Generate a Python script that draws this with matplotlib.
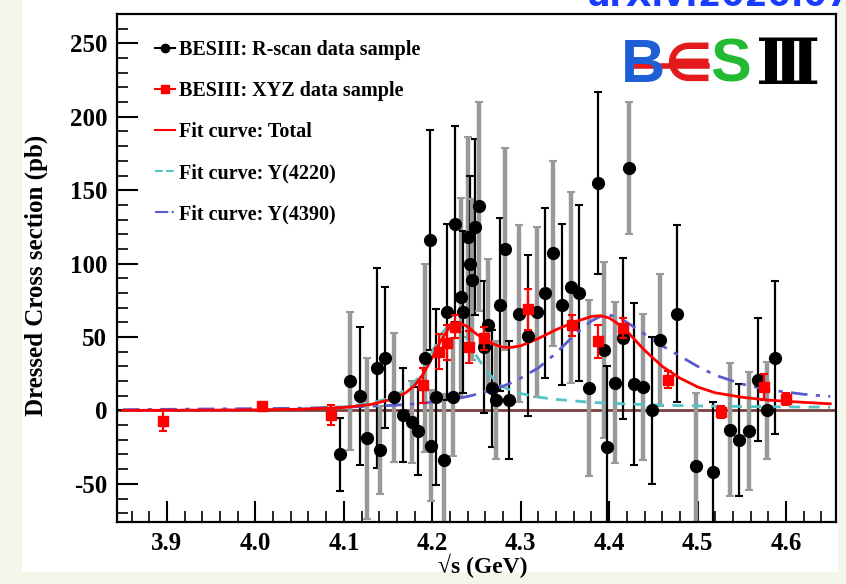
import matplotlib
matplotlib.use("Agg")
import matplotlib.pyplot as plt
from matplotlib.lines import Line2D
from matplotlib.patches import Rectangle
from matplotlib.ticker import MultipleLocator, FormatStrFormatter

# R-scan data: energy (GeV), dressed cross section (pb), error (pb)
rscan_e = [4.096, 4.107, 4.118, 4.126, 4.137, 4.141, 4.147, 4.157, 4.167, 4.177,
           4.184, 4.192, 4.197, 4.199, 4.204, 4.213, 4.217, 4.223, 4.226, 4.232,
           4.235, 4.240, 4.243, 4.245, 4.248, 4.253, 4.258, 4.263, 4.268, 4.272,
           4.277, 4.282, 4.287, 4.298, 4.308, 4.318, 4.328, 4.337, 4.347, 4.357,
           4.366, 4.377, 4.387, 4.394, 4.397, 4.407, 4.416, 4.422, 4.428, 4.438,
           4.448, 4.457, 4.477, 4.498, 4.517, 4.537, 4.547, 4.558, 4.568, 4.578,
           4.587]
rscan_xs = [-30, 20, 10, -19, 29, -27, 36, 9, -3, -8,
            -14, 36, 116, -24, 9, -34, 67, 9, 127, 77,
            67, 118, 100, 89, 125, 139, 43, 58, 15, 7,
            72, 110, 7, 66, 51, 67, 80, 107, 72, 84,
            80, 15, 155, 41, -25, 19, 49, 165, 18, 16,
            0, 48, 66, -38, -42, -13, -20, -14, 21, 0,
            36]
rscan_err = [25, 47, 47, 55, 68, 30, 48, 44, 32, 28,
             30, 64, 75, 38, 60, 45, 60, 40, 67, 68,
             55, 68, 60, 55, 60, 71, 45, 45, 40, 40,
             59, 69, 40, 60, 55, 58, 58, 63, 55, 65,
             60, 60, 62, 60, 55, 55, 55, 45, 55, 50,
             50, 45, 60, 50, 48, 45, 38, 40, 42, 33,
             52]

# XYZ data sample
xyz_e = [3.896, 4.008, 4.085, 4.189, 4.208, 4.217, 4.226, 4.242, 4.258, 4.308,
         4.358, 4.387, 4.416, 4.467, 4.527, 4.575, 4.600]
xyz_xs = [-7, 3, -3, 17, 40, 46, 57, 43, 49, 69,
          58, 47, 56, 21, -1, 16, 8]
xyz_err = [7, 2, 7, 12, 12, 12, 8, 11, 8, 14,
           7, 11, 7, 6, 4, 9, 4]

# fit curves
fit_e = [3.85, 3.95, 4.00, 4.05, 4.10, 4.13, 4.15, 4.17, 4.18, 4.19,
         4.20, 4.21, 4.22, 4.23, 4.24, 4.25, 4.26, 4.27, 4.28, 4.29,
         4.30, 4.32, 4.34, 4.36, 4.38, 4.39, 4.40, 4.41, 4.42, 4.44,
         4.46, 4.48, 4.50, 4.52, 4.55, 4.58, 4.62, 4.65]
fit_total = [0, 0.2, 0.4, 0.8, 2, 4, 7, 12, 17, 25,
             36, 48, 57, 60, 57, 52, 48, 45, 43, 43,
             44, 49, 55, 60, 64, 64.5, 63, 59, 54, 41,
             30, 22, 16, 12, 9, 7, 5.5, 4.5]
fit_y4220 = [0, 0.3, 0.5, 1, 2.5, 5, 8, 14, 19, 28,
             40, 52, 59, 57, 48, 37, 28, 21, 16, 13.5,
             11.5, 9, 7.5, 6.5, 5.5, 5.2, 5, 4.7, 4.4, 4,
             3.6, 3.3, 3.1, 2.9, 2.7, 2.5, 2.3, 2.2]
fit_y4390 = [0.5, 1, 1.2, 1.5, 2.2, 2.8, 3.3, 4, 4.5, 5,
             5.7, 6.5, 7.3, 8.3, 9.5, 11, 12.5, 14.5, 16.5, 19,
             22, 29, 39, 51, 61, 64, 65, 63.5, 60, 52,
             44, 37, 30, 24, 18, 14, 11, 9.5]

CYAN = "#55c3c3"
BLUE = "#5b5bd0"
W, H = 846, 584

plt.rcParams["font.family"] = "Liberation Serif"
plt.rcParams["font.weight"] = "bold"
plt.rcParams["axes.labelweight"] = "bold"
plt.rcParams["axes.unicode_minus"] = False

fig = plt.figure(figsize=(W / 100, H / 100), dpi=100)
fig.patch.set_facecolor("#f2f7ea")
fig.add_artist(Rectangle((22 / W, 12 / H), 816 / W, 572 / H, transform=fig.transFigure,
                         facecolor="white", edgecolor="none", zorder=-1))

ax = fig.add_axes([117 / W, 62 / H, 719 / W, 508 / H])
ax.set_xlim(3.8435, 4.6565)
ax.set_ylim(-76, 270)

ax.axhline(0, color="#7b4040", lw=2, zorder=1)

# R-scan: alternate black / grey error bars
for i in range(len(rscan_e)):
    grey = i % 2 == 1
    ax.errorbar(rscan_e[i], rscan_xs[i], yerr=rscan_err[i], fmt="none",
                ecolor="#999999" if grey else "black",
                elinewidth=3.2 if grey else 1.6, capsize=3, capthick=1.5, zorder=2)
ax.plot(rscan_e, rscan_xs, "o", color="black", ms=8.5, zorder=5)

ax.errorbar(xyz_e, xyz_xs, yerr=xyz_err, fmt="s", color="red", ms=7.5,
            elinewidth=1.6, capsize=3, capthick=1.5, zorder=6)

ax.plot(fit_e, fit_total, color="red", lw=2, zorder=4)
ax.plot(fit_e, fit_y4220, color=CYAN, lw=2, dashes=(4, 3), zorder=3)
ax.plot(fit_e, fit_y4390, color=BLUE, lw=2, dashes=(6, 3, 1.5, 3), zorder=3)

ax.xaxis.set_major_locator(MultipleLocator(0.1))
ax.xaxis.set_minor_locator(MultipleLocator(0.02))
ax.xaxis.set_major_formatter(FormatStrFormatter("%.1f"))
ax.yaxis.set_major_locator(MultipleLocator(50))
ax.yaxis.set_minor_locator(MultipleLocator(10))
ax.tick_params(which="both", direction="in", top=False, right=False, labelsize=18)
ax.tick_params(which="major", length=15, width=1.5, pad=7)
ax.tick_params(which="minor", length=8, width=1.2)
for sp in ax.spines.values():
    sp.set_linewidth(1.6)

ax.set_xlabel("√s (GeV)", fontsize=17)
ax.xaxis.set_label_coords(0.508, -0.062)
ax.set_ylabel("Dressed Cross section (pb)", fontsize=18)
ax.yaxis.set_label_coords(-0.096, 0.486)

handles = [
    Line2D([], [], color="black", marker="o", ms=6, lw=1.5),
    Line2D([], [], color="red", marker="s", ms=6, lw=1.5),
    Line2D([], [], color="red", lw=1.5),
    Line2D([], [], color=CYAN, lw=1.5, ls="--"),
    Line2D([], [], color=BLUE, lw=1.5, ls="-."),
]
labels = ["BESIII: R-scan data sample", "BESIII: XYZ data sample",
          "Fit curve: Total", "Fit curve: Y(4220)", "Fit curve: Y(4390)"]
ax.legend(handles, labels, loc="upper left", bbox_to_anchor=(0.053, 0.949),
          frameon=False, fontsize=14.5, handlelength=1.0, handletextpad=0.2,
          labelspacing=1.05, borderpad=0, borderaxespad=0)

# BESIII logo
fig.text(643 / W, 1 - 66 / H, "B", color="#1f5fd6", fontsize=44, family="Liberation Sans",
         weight="bold", ha="center", va="center")
fig.text(688 / W, 1 - 66 / H, "∈", color="#e41a1c", fontsize=38, family="DejaVu Sans",
         weight="bold", ha="center", va="center")
fig.add_artist(Line2D([629 / W, 707 / W], [1 - 66 / H, 1 - 66 / H], color="#e41a1c",
                      lw=4, transform=fig.transFigure))
fig.text(731 / W, 1 - 66 / H, "S", color="#22bb33", fontsize=44, family="Liberation Sans",
         weight="bold", ha="center", va="center")
fig.text(788 / W, 1 - 67 / H, "Ⅲ", color="black", fontsize=46, family="DejaVu Serif",
         weight="bold", ha="center", va="center")

fig.text(588 / W, 1 - 6 / H, "arXiv:2020.07044", color="#1a3cff", fontsize=24,
         family="DejaVu Sans", weight="bold", ha="left", va="baseline")

fig.savefig("out.png", dpi=100)
